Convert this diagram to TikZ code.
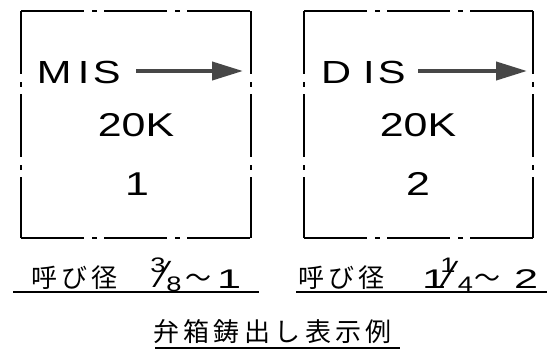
\documentclass[tikz,border=0pt]{standalone}
\usepackage{fontspec}
\setmainfont{Liberation Sans}
\newfontfamily\cadfont[FakeStretch=1.3]{Liberation Sans}
\newfontfamily\widefont[FakeStretch=1.6]{Liberation Sans}
\newfontfamily\slashfont{Liberation Sans}
\newfontfamily\jpfont[LetterSpace=17]{Noto Sans CJK JP}
\usetikzlibrary{arrows.meta}
\tikzset{
  boxedge/.style={line width=1.2pt, dash pattern=on 63pt off 8pt on 5pt off 7pt},
  txt/.style={inner sep=0pt, outer sep=0pt},
  flowarrow/.style={line width=4pt, draw=black!72, -{Triangle[length=31pt,width=18pt]}},
  uline/.style={line width=1.5pt},
  boxfont/.style={font=\cadfont\fontsize{33}{33}\selectfont},
  tagfont/.style={font=\cadfont\fontsize{32}{32}\selectfont},
  jpbig/.style={font=\jpfont\fontsize{26}{26}\selectfont},
  numfont/.style={font=\widefont\fontsize{27}{27}\selectfont},
  fracfont/.style={font=\cadfont\fontsize{21}{21}\selectfont},
  slashstyle/.style={font=\slashfont\fontsize{38}{38}\selectfont}
}
\begin{document}
\begin{tikzpicture}[x=1pt,y=-1pt]
\useasboundingbox (0,0) rectangle (558,360);
% left box
\draw[boxedge] (21,11) -- (251,11);
\draw[boxedge] (21,11) -- (21,238);
\draw[boxedge] (251,11) -- (251,238);
\draw[boxedge] (21,238) -- (251,238);
% right box
\draw[boxedge] (304,11) -- (533,11);
\draw[boxedge] (304,11) -- (304,238);
\draw[boxedge] (533,11) -- (533,238);
\draw[boxedge] (304,238) -- (533,238);
% box texts
\node[txt, tagfont, anchor=base west] (mis) at (37,83) {M\hspace{6.3pt}I\hspace{3.4pt}S};
\node[txt, tagfont, anchor=base west] (dis) at (321,83) {D\hspace{12pt}I\hspace{3.4pt}S};
\coordinate (misA) at (136,71);
\coordinate (misB) at (243,71);
\coordinate (disA) at (418,71);
\coordinate (disB) at (527,71);
\draw[flowarrow] (misA) -- (misB);
\draw[flowarrow] (disA) -- (disB);
\node[txt, boxfont] (pA) at (136,125) {20K};
\node[txt, boxfont] (nA) at (137,184) {1};
\node[txt, boxfont] (pB) at (418,125) {20K};
\node[txt, boxfont] (nB) at (418,184) {2};
% bottom labels, left
\node[txt, jpbig, anchor=base west] (jA) at (31,287) {呼び径};
\node[txt, fracfont] (numA) at (158,265.5) {3};
\node[txt, slashstyle] (slA) at (163.5,274) {⁄};
\node[txt, fracfont] (denA) at (174,284.5) {8};
\node[txt, jpbig, anchor=base west] (wA) at (185,287) {〜};
\node[txt, numfont, anchor=base west] (oA) at (217,288) {1};
% bottom labels, right
\node[txt, jpbig, anchor=base west] (jB) at (298,287) {呼び径};
\node[txt, numfont, anchor=base west] (oB) at (422,288) {1};
\node[txt, fracfont] (numB) at (448,265.5) {1};
\node[txt, slashstyle] (slB) at (450.5,274) {⁄};
\node[txt, fracfont] (denB) at (465.5,284.5) {4};
\node[txt, jpbig, anchor=base west] (wB) at (474,287) {〜};
\node[txt, numfont, anchor=base west] (tB) at (514,288) {2};
\coordinate (uA1) at (13,292);
\coordinate (uA2) at (259,292);
\coordinate (uB1) at (296,292);
\coordinate (uB2) at (547,292);
\draw[uline] (uA1) -- (uA2);
\draw[uline] (uB1) -- (uB2);
\node[txt, jpbig, anchor=base west] (title) at (153,341) {弁箱鋳出し表示例};
\coordinate (uT1) at (155,348);
\coordinate (uT2) at (400,348);
\draw[uline] (uT1) -- (uT2);
\end{tikzpicture}
\end{document}
